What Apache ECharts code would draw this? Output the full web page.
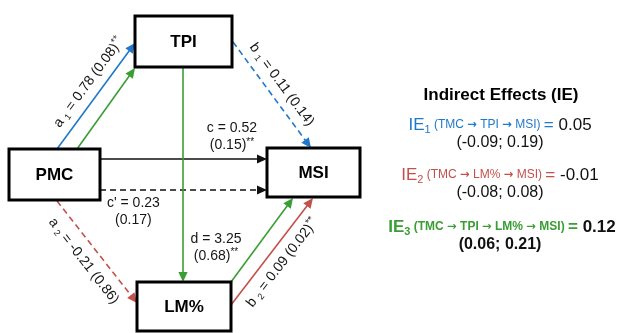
<!DOCTYPE html>
<html>
<head>
<meta charset="utf-8">
<script src="https://cdn.jsdelivr.net/npm/echarts@6/dist/echarts.min.js"></script>
<style>
  html, body { margin: 0; padding: 0; background: #fff; }
  #chart { width: 622px; height: 333px; }
</style>
</head>
<body>
<div id="chart"></div>
<script>
// ---- Model data ----
const nodeNames = ['PMC', 'TPI', 'MSI', 'LM%'];

// Path coefficients: estimate, (standard error) and significance marks
const pathKeys = ['a1', 'b1', 'c', 'cPrime', 'd', 'a2', 'b2'];
const pathSymbols = [['a', '1'], ['b', '1'], ['c', ''], ["c'", ''], ['d', ''], ['a', '2'], ['b', '2']];
const pathEstimates = [0.78, 0.11, 0.52, 0.23, 3.25, -0.21, 0.09];
const pathErrors = [0.08, 0.14, 0.15, 0.17, 0.68, 0.86, 0.02];
const pathSignif = ['**', '', '**', '', '**', '', '**'];

// Indirect effects: the variables each route passes through, estimate and CI
const ieRoutes = [['TMC', 'TPI', 'MSI'], ['TMC', 'LM%', 'MSI'], ['TMC', 'TPI', 'LM%', 'MSI']];
const ieEstimates = [0.05, -0.01, 0.12];
const ieLower = [-0.09, -0.08, 0.06];
const ieUpper = [0.19, 0.08, 0.21];

// ---- Layout and styling ----
const FONT = "'Liberation Sans', Arial, Helvetica, sans-serif";
const ARROW_FONT = "'DejaVu Sans', sans-serif";
const COLORS = { blue: '#1f78cc', green: '#3a9e34', red: '#c4504b', black: '#111111' };
const INK = '#161616';

// Boxes in the 622 x 333 frame: [left, top, right, bottom]
const boxLayout = {
  'PMC': [9, 149, 100, 200],
  'TPI': [135, 16, 232, 67],
  'MSI': [267, 148, 360, 197],
  'LM%': [137, 282, 231, 331]
};

// Arrows: endpoints, colour, dash, coefficient shown and where its label sits
// label.t = fraction along the arrow, label.off = distance to the left of travel
const arrows = [
  { from: [57, 149], to: [135, 43], color: 'blue', path: 'a1', label: { t: 0.55, off: 14 } },
  { from: [77, 149], to: [135, 68], color: 'green' },
  { from: [233, 42], to: [311, 148], color: 'blue', dashed: true, path: 'b1', label: { t: 0.48, off: 14 } },
  { from: [100, 159], to: [267, 159], color: 'black', width: 1.3, path: 'c', label: { t: 0.79, off: 22, flat: true } },
  { from: [100, 190], to: [267, 190], color: 'black', width: 1.3, dashed: true, path: 'cPrime', label: { t: 0.2, off: -21.5, flat: true } },
  { from: [183, 67], to: [183, 282], color: 'green', path: 'd', label: { t: 0.84, off: 33, flat: true } },
  { from: [57, 201], to: [137, 303], color: 'red', dashed: true, path: 'a2', label: { t: 0.49, off: -16 } },
  { from: [231, 282], to: [293, 198], color: 'green' },
  { from: [231, 305], to: [313, 198], color: 'red', path: 'b2', label: { t: 0.48, off: -15 } }
];

const fmt = v => v.toFixed(2);

const labelRich = {
  v: { fontFamily: FONT, fontSize: 14, lineHeight: 17, fill: INK },
  sub: { fontFamily: FONT, fontSize: 9, lineHeight: 9, verticalAlign: 'bottom', fill: INK },
  sup: { fontFamily: FONT, fontSize: 10, lineHeight: 10, verticalAlign: 'top', fill: INK }
};

function pathText(key, flat) {
  const i = pathKeys.indexOf(key);
  const [sym, sub] = pathSymbols[i];
  const sig = pathSignif[i] ? '{sup|' + pathSignif[i] + '}' : '';
  const head = sub ? '{v|' + sym + ' }{sub|' + sub + '}{v| = ' : '{v|' + sym + ' = ';
  if (flat) {
    return head + fmt(pathEstimates[i]) + '}\n{v|(' + fmt(pathErrors[i]) + ')}' + sig;
  }
  return head + fmt(pathEstimates[i]) + ' (' + fmt(pathErrors[i]) + ')}' + sig;
}

function renderArrow(params, api) {
  const a = arrows[params.dataIndex];
  const p0 = api.coord(a.from);
  const p1 = api.coord(a.to);
  const dx = p1[0] - p0[0], dy = p1[1] - p0[1];
  const len = Math.hypot(dx, dy);
  const ux = dx / len, uy = dy / len;
  const nx = uy, ny = -ux; // left of travel on screen
  const headL = 10, headW = 4.6;
  const bx = p1[0] - ux * headL, by = p1[1] - uy * headL;
  const color = COLORS[a.color];
  const children = [
    {
      type: 'line',
      shape: { x1: p0[0], y1: p0[1], x2: bx + ux * 1, y2: by + uy * 1 },
      style: { stroke: color, lineWidth: a.width || 1.6, lineDash: a.dashed ? [6, 4] : null }
    },
    {
      type: 'polygon',
      shape: { points: [[p1[0], p1[1]], [bx + nx * headW, by + ny * headW], [bx - nx * headW, by - ny * headW]] },
      style: { fill: color }
    }
  ];
  if (a.label) {
    const lx = p0[0] + dx * a.label.t + nx * a.label.off;
    const ly = p0[1] + dy * a.label.t + ny * a.label.off;
    let rot = 0;
    if (!a.label.flat) {
      rot = -Math.atan2(dy, dx);
      if (rot > Math.PI / 2) rot -= Math.PI;
      if (rot < -Math.PI / 2) rot += Math.PI;
    }
    children.push({
      type: 'text',
      x: lx, y: ly, rotation: rot,
      style: {
        text: pathText(a.path, a.label.flat),
        rich: labelRich,
        align: 'center',
        verticalAlign: 'middle'
      }
    });
  }
  return { type: 'group', children: children };
}

function renderBox(params, api) {
  const name = nodeNames[params.dataIndex];
  const b = boxLayout[name];
  const tl = api.coord([b[0], b[1]]);
  const br = api.coord([b[2], b[3]]);
  return {
    type: 'group',
    children: [
      {
        type: 'rect',
        shape: { x: tl[0], y: tl[1], width: br[0] - tl[0], height: br[1] - tl[1] },
        style: { fill: '#fff', stroke: '#000', lineWidth: 3 }
      },
      {
        type: 'text',
        x: (tl[0] + br[0]) / 2, y: (tl[1] + br[1]) / 2 + 1,
        style: { text: name, font: 'bold 17px ' + FONT, fill: '#000', align: 'center', verticalAlign: 'middle' }
      }
    ]
  };
}

// Indirect effects panel
const ieColorKeys = ['blue', 'red', 'green'];
const ieRowY = [125, 175, 227];
const ieCiY = [143, 193, 245];
const panelX = 500;

const panel = [{
  type: 'text', x: panelX + 1, y: 95,
  style: { text: 'Indirect Effects (IE)', font: 'bold 17px ' + FONT, fill: '#000', align: 'center', verticalAlign: 'middle' }
}];
ieRoutes.forEach((route, i) => {
  const c = COLORS[ieColorKeys[i]];
  const bold = i === 2 ? 'bold' : 'normal';
  const routeText = route.map(v => '{route|' + v + '}').join('{route| }{arr|\u2192}{route| }');
  panel.push({
    type: 'text', x: panelX + (i === 2 ? 2 : 0), y: ieRowY[i],
    style: {
      text: '{ie|IE}{ies|' + (i + 1) + '}{route| (}' + routeText + '{route|) }{eq|=}{val| ' + fmt(ieEstimates[i]) + '}',
      align: 'center', verticalAlign: 'middle',
      rich: {
        ie: { fontFamily: FONT, fontSize: 17, fontWeight: bold, lineHeight: 20, fill: c },
        ies: { fontFamily: FONT, fontSize: 11, fontWeight: bold, lineHeight: 11, verticalAlign: 'bottom', fill: c },
        route: { fontFamily: FONT, fontSize: 12, fontWeight: bold, lineHeight: 20, fill: c },
        arr: { fontFamily: ARROW_FONT, fontSize: 11.5, fontWeight: 'bold', lineHeight: 20, fill: c },
        eq: { fontFamily: FONT, fontSize: 17, fontWeight: bold, lineHeight: 20, fill: c },
        val: { fontFamily: FONT, fontSize: 17, fontWeight: bold, lineHeight: 20, fill: '#111' }
      }
    }
  });
  panel.push({
    type: 'text', x: panelX, y: ieCiY[i],
    style: {
      text: '(' + fmt(ieLower[i]) + '; ' + fmt(ieUpper[i]) + ')',
      font: bold + ' 16px ' + FONT, fill: '#111', align: 'center', verticalAlign: 'middle'
    }
  });
});

const chart = echarts.init(document.getElementById('chart'));
chart.setOption({
  animation: false,
  backgroundColor: '#fff',
  grid: { left: 0, right: 0, top: 0, bottom: 0 },
  xAxis: { type: 'value', min: 0, max: 622, show: false },
  yAxis: { type: 'value', min: 0, max: 333, inverse: true, show: false },
  series: [
    {
      type: 'custom', name: 'paths', z: 2,
      data: arrows.map((a, i) => [i]),
      renderItem: renderArrow,
      silent: true
    },
    {
      type: 'custom', name: 'variables', z: 3,
      data: nodeNames.map((n, i) => [i]),
      renderItem: renderBox,
      silent: true
    }
  ],
  graphic: panel
});
</script>
</body>
</html>
